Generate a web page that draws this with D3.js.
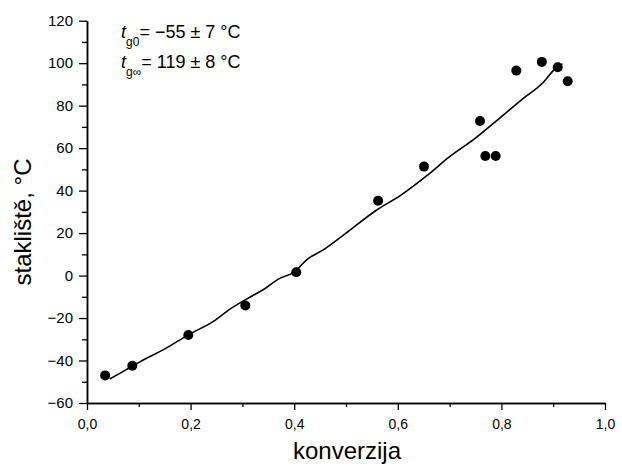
<!DOCTYPE html>
<html><head><meta charset="utf-8">
<script src="https://cdn.jsdelivr.net/npm/d3@7"></script>
<style>body{margin:0;background:#fff}svg{display:block}text{font-family:"Liberation Sans",Arial,sans-serif}</style>
</head><body>
<svg id="c" width="622" height="467"></svg>
<script>
const conversion = [0.035, 0.0875, 0.1956, 0.3056, 0.404, 0.562, 0.6506, 0.7587, 0.769, 0.789, 0.8288, 0.878, 0.9087, 0.928];
const tg = [-47, -42.5, -28.0, -14.1, 1.6, 35.2, 51.3, 72.8, 56.3, 56.3, 96.5, 100.6, 98.1, 91.5];
const fitX = [0.044, 0.07, 0.088, 0.115, 0.147, 0.1956, 0.244, 0.276, 0.308, 0.34, 0.373, 0.398, 0.411, 0.424, 0.456, 0.5, 0.56, 0.604, 0.656, 0.70, 0.746, 0.791, 0.84, 0.881, 0.90, 0.91, 0.918];
const fitY = [-48.7, -45.1, -42.6, -38.9, -35, -27.9, -21.6, -15.8, -11.1, -6.7, -1.2, 1.4, 4.2, 7.4, 12.1, 20, 31, 37.5, 47, 56, 64, 73, 83, 91, 96.5, 98.9, 99.6];
const xMajor = [0, 0.2, 0.4, 0.6, 0.8, 1.0];
const xMinor = [0.1, 0.3, 0.5, 0.7, 0.9];
const yMajor = [-60, -40, -20, 0, 20, 40, 60, 80, 100, 120];
const yMinor = [-50, -30, -10, 10, 30, 50, 70, 90, 110];
const xLabel = "konverzija";
const yLabel = "stakliště, °C";

const svg = d3.select("#c");
const x = d3.scaleLinear().domain([0, 1]).range([87, 605]);
const y = d3.scaleLinear().domain([-60, 120]).range([403, 20.7]);
const fmt = d => d3.format(".1f")(d).replace(".", ",");

svg.append("g").attr("class", "xa").attr("transform", `translate(0,${y(-60)})`)
  .call(d3.axisBottom(x).tickValues(xMajor).tickFormat(fmt).tickSize(7).tickSizeOuter(0).tickPadding(9));
svg.append("g").attr("transform", `translate(0,${y(-60)})`)
  .call(d3.axisBottom(x).tickValues(xMinor).tickFormat("").tickSize(4).tickSizeOuter(0));
svg.append("g").attr("class", "ya").attr("transform", `translate(${x(0)},0)`)
  .call(d3.axisLeft(y).tickValues(yMajor).tickSize(8).tickSizeOuter(0).tickPadding(6));
svg.append("g").attr("transform", `translate(${x(0)},0)`)
  .call(d3.axisLeft(y).tickValues(yMinor).tickFormat("").tickSize(5).tickSizeOuter(0));
svg.selectAll(".domain").attr("stroke", "#000").attr("stroke-width", 1.5);
svg.selectAll(".tick line").attr("stroke", "#000").attr("stroke-width", 1.3);
svg.selectAll(".tick text").attr("fill", "#000")
  .attr("font-family", "Liberation Sans, Arial, sans-serif");
svg.selectAll(".xa .tick text").attr("font-size", 14);
svg.selectAll(".ya .tick text").attr("font-size", 15);

svg.append("path")
  .datum(fitX.map((v, i) => [v, fitY[i]]))
  .attr("fill", "none").attr("stroke", "#000").attr("stroke-width", 1.6)
  .attr("d", d3.line().x(d => x(d[0])).y(d => y(d[1])).curve(d3.curveMonotoneX));

svg.selectAll("circle.pt").data(conversion.map((v, i) => [v, tg[i]])).join("circle")
  .attr("class", "pt").attr("cx", d => x(d[0])).attr("cy", d => y(d[1])).attr("r", 5).attr("fill", "#000");

svg.append("text").attr("x", 347).attr("y", 459).attr("text-anchor", "middle")
  .attr("font-size", 24).attr("fill", "#000").text(xLabel);
svg.append("text").attr("transform", "translate(31,222) rotate(-90)").attr("text-anchor", "middle")
  .attr("font-size", 24).attr("fill", "#000").text(yLabel);

function annot(yb, sub, rest) {
  const t = svg.append("text").attr("x", 121).attr("y", yb).attr("font-size", 18).attr("fill", "#000");
  t.append("tspan").attr("font-style", "italic").text("t");
  t.append("tspan").attr("font-size", 12).attr("dy", 8).text(sub);
  t.append("tspan").attr("dy", -8).text(rest);
}
annot(38, "g0", "= −55 ± 7 °C");
annot(68, "g∞", "= 119 ± 8 °C");
</script>
</body></html>
